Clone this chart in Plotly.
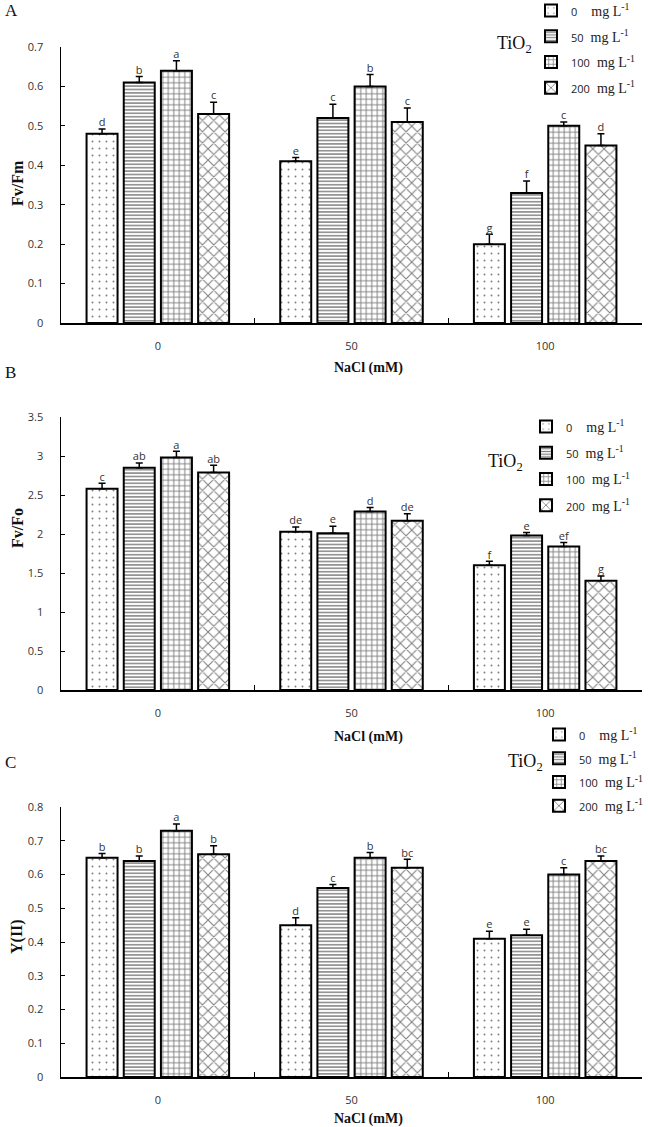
import plotly.graph_objects as go

# ---------------- data ----------------
nacl_levels = ["0", "50", "100"]          # NaCl (mM) categories
tio2_levels = ["0", "50", "100", "200"]   # TiO2 dose (mg L-1) series

# Panel A : Fv/Fm   (rows = TiO2 dose, columns = NaCl level)
fvfm_mean = [[0.48, 0.41, 0.20], [0.61, 0.52, 0.33], [0.64, 0.60, 0.50], [0.53, 0.51, 0.45]]
fvfm_err = [[0.012, 0.010, 0.025], [0.015, 0.035, 0.030], [0.025, 0.030, 0.010], [0.030, 0.035, 0.030]]
fvfm_letters = [["d", "e", "g"], ["b", "c", "f"], ["a", "b", "c"], ["c", "c", "d"]]

# Panel B : Fv/Fo
fvfo_mean = [[2.58, 2.03, 1.60], [2.85, 2.01, 1.98], [2.98, 2.29, 1.84], [2.79, 2.17, 1.40]]
fvfo_err = [[0.07, 0.06, 0.05], [0.06, 0.09, 0.04], [0.08, 0.05, 0.05], [0.09, 0.09, 0.06]]
fvfo_letters = [["c", "de", "f"], ["ab", "e", "e"], ["a", "d", "ef"], ["ab", "de", "g"]]

# Panel C : Y(II)
yii_mean = [[0.65, 0.45, 0.41], [0.64, 0.56, 0.42], [0.73, 0.65, 0.60], [0.66, 0.62, 0.64]]
yii_err = [[0.012, 0.022, 0.022], [0.015, 0.010, 0.018], [0.020, 0.015, 0.020], [0.025, 0.025, 0.015]]
yii_letters = [["b", "d", "e"], ["b", "c", "e"], ["a", "b", "c"], ["b", "bc", "bc"]]

# ---------------- styling ----------------
W, H = 648, 1127
patterns = [
    dict(shape=".", size=7, solidity=0.06),
    dict(shape="-", size=3.4, solidity=0.42),
    dict(shape="+", size=5.5, solidity=0.32),
    dict(shape="x", size=8, solidity=0.25),
]
slot = 0.192     # category fraction per bar slot
barw = 0.160     # bar width in category units
SANS = "Open Sans"
SERIF = "Liberation Serif"
X0, X1 = 61, 642


def py(p):
    return 1 - p / H


def px(p):
    return p / W


panels = [
    dict(mean=fvfm_mean, err=fvfm_err, letters=fvfm_letters, rng=[0, 0.7], dtick=0.1,
         y0=323, y1=47, title="Fv/Fm", title_y=183, letter="A", letter_y=10,
         xt_y=368, tio=(514, 45), leg=(531, -5), gap=4.5),
    dict(mean=fvfo_mean, err=fvfo_err, letters=fvfo_letters, rng=[0, 3.5], dtick=0.5,
         y0=690, y1=417, title="Fv/Fo", title_y=528, letter="B", letter_y=373,
         xt_y=737, tio=(505, 463), leg=(526, 411), gap=5),
    dict(mean=yii_mean, err=yii_err, letters=yii_letters, rng=[0, 0.8], dtick=0.1,
         y0=1077, y1=807, title="Y(II)", title_y=937, letter="C", letter_y=763,
         xt_y=1119, tio=(525, 763), leg=(539, 719), gap=2.5),
]

pads = {"0": 4, "50": 2, "100": 2, "200": 2}

fig = go.Figure()
annotations = []
layout_extra = {}

for p_i, p in enumerate(panels):
    sfx = "" if p_i == 0 else str(p_i + 1)
    xa, ya = "x" + sfx, "y" + sfx
    leg_id = "legend" + sfx
    for d_i, dose in enumerate(tio2_levels):
        xs = [c + (d_i - 1.5) * slot for c in range(len(nacl_levels))]
        name = (f'<span style="font-family:{SANS};font-size:11px">{dose}</span>'
                f'{chr(160) * pads[dose]}mg L<sup>-1</sup>')
        fig.add_trace(go.Bar(
            x=xs, y=p["mean"][d_i], width=barw, name=name,
            xaxis=xa, yaxis=ya, legend=leg_id, legendgroup=f"{p_i}-{d_i}",
            marker=dict(color="white", line=dict(color="black", width=2),
                        pattern=dict(fgcolor="black", bgcolor="white", fillmode="overlay",
                                     **patterns[d_i])),
            error_y=dict(type="data", symmetric=False, array=p["err"][d_i],
                         arrayminus=[0] * len(nacl_levels), color="black",
                         thickness=1.5, width=3.5),
        ))
        fig.add_trace(go.Scatter(
            x=xs, y=[m + e for m, e in zip(p["mean"][d_i], p["err"][d_i])],
            text=p["letters"][d_i], mode="text", textposition="top center",
            textfont=dict(family=SANS, size=11, color="#333"),
            xaxis=xa, yaxis=ya, showlegend=False, cliponaxis=False, hoverinfo="skip",
        ))

    layout_extra["xaxis" + sfx] = dict(
        domain=[px(X0), px(X1)], anchor=ya, range=[-0.5, 2.5],
        tickmode="array", tickvals=[0, 1, 2], ticktext=nacl_levels, ticks="",
        ticklabelstandoff=12,
        minor=dict(tickmode="array", tickvals=[0.5, 1.5], ticks="inside",
                   ticklen=5, tickcolor="black", tickwidth=1),
        showline=True, linecolor="black", linewidth=1.5, showgrid=False, zeroline=False,
        tickfont=dict(family=SANS, size=11, color="#333"), fixedrange=True,
    )
    layout_extra["yaxis" + sfx] = dict(
        domain=[py(p["y0"]), py(p["y1"])], anchor=xa, range=p["rng"], dtick=p["dtick"], tick0=0,
        ticks="inside", ticklen=4, tickcolor="black", ticklabelstandoff=14,
        showline=True, linecolor="black", linewidth=1.5, showgrid=False, zeroline=False,
        tickfont=dict(family=SANS, size=11, color="#333"), fixedrange=True,
    )
    layout_extra[leg_id] = dict(
        x=px(p["leg"][0]), y=py(p["leg"][1]), xanchor="left", yanchor="top",
        bgcolor="rgba(0,0,0,0)", font=dict(family=SERIF, size=14, color="#222"),
        traceorder="grouped", tracegroupgap=p["gap"], itemwidth=30,
    )

    annotations += [
        dict(text=f"<b>{p['title']}</b>", x=px(17), y=py(p["title_y"]), xref="paper", yref="paper",
             xanchor="center", yanchor="middle", textangle=-90, showarrow=False,
             font=dict(family=SERIF, size=16, color="#111")),
        dict(text="<b>NaCl (mM)</b>", x=px(368), y=py(p["xt_y"]), xref="paper", yref="paper",
             xanchor="center", yanchor="middle", showarrow=False,
             font=dict(family=SERIF, size=14, color="#111")),
        dict(text=p["letter"], x=px(3), y=py(p["letter_y"]), xref="paper", yref="paper",
             xanchor="left", yanchor="middle", showarrow=False,
             font=dict(family=SERIF, size=17, color="#111")),
        dict(text="TiO<sub>2</sub>", x=px(p["tio"][0]), y=py(p["tio"][1]), xref="paper", yref="paper",
             xanchor="center", yanchor="middle", showarrow=False,
             font=dict(family=SERIF, size=18, color="#111")),
    ]

fig.update_layout(
    width=W, height=H, margin=dict(l=0, r=0, t=0, b=0, autoexpand=False),
    paper_bgcolor="white", plot_bgcolor="white",
    barmode="overlay", annotations=annotations, showlegend=True,
    hovermode=False, **layout_extra,
)

# remove the browser's default 8px page margin so the figure fills the window exactly
fig.write_html(
    "out.html",
    config={"displayModeBar": False, "staticPlot": True},
    post_script="document.body.style.margin='0';document.body.style.overflow='hidden';",
)
